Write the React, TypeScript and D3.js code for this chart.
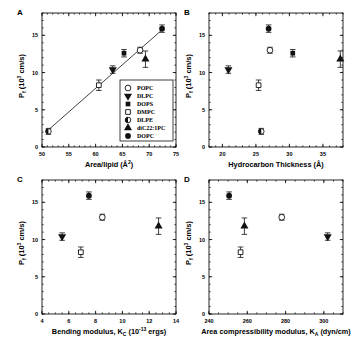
import React from 'react';
import * as d3 from 'd3';

// lipids, shared across the four panels
const lipids = ['POPC', 'DLPC', 'DOPS', 'DMPC', 'DLPE', 'diC22:1PC', 'DOPC'];
const symbols = ['circleOpen', 'triangleDown', 'square', 'squareOpen', 'circleHalf', 'triangle', 'circle'];
const pf = [13.0, 10.4, 12.6, 8.3, 2.1, 11.8, 15.9];
const pfErr = [0.4, 0.5, 0.5, 0.7, 0.4, 1.1, 0.5];

// x values per panel (null = not shown)
const areaPerLipid = [68.3, 63.2, 65.3, 60.6, 51.2, 69.3, 72.4];
const thickness = [27.1, 20.9, 30.5, 25.4, 25.8, 37.6, 26.9];
const bending = [8.5, 5.5, null, 6.9, null, 12.7, 7.5];
const compressibility = [278, 302, null, 256.5, null, 258.5, 250.5];

// fit line in panel A
const fitArea = [51.2, 72.5];
const fitPf = [2.3, 15.8];

const yTicks = [0, 5, 10, 15];

const FONT = '"Liberation Sans", Arial, sans-serif';
const W = 134;
const H = 134;

type PanelProps = {
  letter: string;
  left: number;
  top: number;
  xDomain: [number, number];
  xTicks: number[];
  xMinor: number;
  xs: (number | null)[];
  xTitle: React.ReactNode;
  fit?: boolean;
  legend?: boolean;
};

const Marker = ({ kind, x, y }: { kind: string; x: number; y: number }) => {
  const circle = d3.symbol().type(d3.symbolCircle).size(26)();
  const square = d3.symbol().type(d3.symbolSquare).size(22)();
  const tri = d3.symbol().type(d3.symbolTriangle).size(28)();
  const t = `translate(${x},${y})`;
  if (kind === 'circle') return <path d={circle!} transform={t} fill="#111" />;
  if (kind === 'circleOpen')
    return <path d={circle!} transform={t} fill="#fff" stroke="#111" strokeWidth={0.9} />;
  if (kind === 'square') return <path d={square!} transform={t} fill="#111" />;
  if (kind === 'squareOpen')
    return <path d={square!} transform={t} fill="#fff" stroke="#111" strokeWidth={0.9} />;
  if (kind === 'triangle') return <path d={tri!} transform={t} fill="#111" />;
  if (kind === 'triangleDown') return <path d={tri!} transform={`${t} rotate(180)`} fill="#111" />;
  // half-filled circle
  const half = d3.arc()({ innerRadius: 0, outerRadius: 2.8, startAngle: Math.PI, endAngle: 2 * Math.PI });
  return (
    <g transform={t}>
      <circle r={2.8} fill="#fff" stroke="#111" strokeWidth={0.9} />
      <path d={half!} fill="#111" />
    </g>
  );
};

const PfLabel = ({ x, y }: { x: number; y: number }) => (
  <text
    transform={`translate(${x},${y}) rotate(-90)`}
    textAnchor="middle"
    style={{ fontFamily: FONT, fontSize: 7.5, fontWeight: 'bold' }}
  >
    P<tspan fontSize={5} dy={2}>f</tspan>
    <tspan dy={-2}> (10</tspan>
    <tspan fontSize={5} dy={-3}>3</tspan>
    <tspan dy={3}> cm/s)</tspan>
  </text>
);

const Panel = ({ letter, left, top, xDomain, xTicks, xMinor, xs, xTitle, fit, legend }: PanelProps) => {
  const x = d3.scaleLinear().domain(xDomain).range([0, W]);
  const y = d3.scaleLinear().domain([0, 18]).range([H, 0]);
  const xMinorTicks = d3.range(xDomain[0], xDomain[1] + 1e-6, xMinor);
  const yMinorTicks = d3.range(0, 18.001, 1);
  const line = d3.line<number>().x((d) => x(d)).y((_, i) => y(fitPf[i]));

  return (
    <g transform={`translate(${left},${top})`}>
      <text x={-25} y={2} style={{ fontFamily: FONT, fontSize: 8, fontWeight: 'bold' }}>
        {letter}
      </text>
      <rect x={0} y={0} width={W} height={H} fill="none" stroke="#111" strokeWidth={0.9} />

      {/* minor ticks, all four sides */}
      {xMinorTicks.map((t) => (
        <g key={`xm-${t}`}>
          <line x1={x(t)} x2={x(t)} y1={H} y2={H - 1.6} stroke="#111" strokeWidth={0.8} />
          <line x1={x(t)} x2={x(t)} y1={0} y2={1.6} stroke="#111" strokeWidth={0.8} />
        </g>
      ))}
      {yMinorTicks.map((t) => (
        <g key={`ym-${t}`}>
          <line x1={0} x2={1.6} y1={y(t)} y2={y(t)} stroke="#111" strokeWidth={0.8} />
          <line x1={W} x2={W - 1.6} y1={y(t)} y2={y(t)} stroke="#111" strokeWidth={0.8} />
        </g>
      ))}
      {xTicks.map((t) => (
        <g key={`x-${t}`}>
          <line x1={x(t)} x2={x(t)} y1={H} y2={H - 3.2} stroke="#111" strokeWidth={0.9} />
          <line x1={x(t)} x2={x(t)} y1={0} y2={3.2} stroke="#111" strokeWidth={0.9} />
          <text
            x={x(t)}
            y={H + 9}
            textAnchor="middle"
            style={{ fontFamily: FONT, fontSize: 5.5, fontWeight: 'bold' }}
          >
            {t}
          </text>
        </g>
      ))}
      {yTicks.map((t) => (
        <g key={`y-${t}`}>
          <line x1={0} x2={3.2} y1={y(t)} y2={y(t)} stroke="#111" strokeWidth={0.9} />
          <line x1={W} x2={W - 3.2} y1={y(t)} y2={y(t)} stroke="#111" strokeWidth={0.9} />
          <text
            x={-4}
            y={y(t) + 2}
            textAnchor="end"
            style={{ fontFamily: FONT, fontSize: 5.5, fontWeight: 'bold' }}
          >
            {t}
          </text>
        </g>
      ))}

      <PfLabel x={-18} y={H / 2 - 4} />
      <text
        x={W / 2}
        y={H + 20}
        textAnchor="middle"
        style={{ fontFamily: FONT, fontSize: 7.3, fontWeight: 'bold' }}
      >
        {xTitle}
      </text>

      {fit && <path d={line(fitArea)!} fill="none" stroke="#111" strokeWidth={0.8} />}

      {xs.map((v, i) =>
        v == null ? null : (
          <g key={lipids[i]}>
            <line x1={x(v)} x2={x(v)} y1={y(pf[i] - pfErr[i])} y2={y(pf[i] + pfErr[i])} stroke="#111" strokeWidth={0.8} />
            <line x1={x(v) - 2.8} x2={x(v) + 2.8} y1={y(pf[i] - pfErr[i])} y2={y(pf[i] - pfErr[i])} stroke="#111" strokeWidth={0.8} />
            <line x1={x(v) - 2.8} x2={x(v) + 2.8} y1={y(pf[i] + pfErr[i])} y2={y(pf[i] + pfErr[i])} stroke="#111" strokeWidth={0.8} />
            <Marker kind={symbols[i]} x={x(v)} y={y(pf[i])} />
          </g>
        )
      )}

      {legend && (
        <g transform="translate(78,67)">
          <rect x={0} y={0} width={53} height={61} fill="#fff" stroke="#111" strokeWidth={0.8} />
          {lipids.map((name, i) => (
            <g key={name} transform={`translate(0,${8 + i * 8})`}>
              <Marker kind={symbols[i]} x={8} y={0} />
              <text
                x={17}
                y={2.2}
                style={{ fontFamily: '"Liberation Serif", "Times New Roman", serif', fontSize: 6, fontWeight: 'bold' }}
              >
                {name}
              </text>
            </g>
          ))}
        </g>
      )}
    </g>
  );
};

const App = () => (
  <svg
    width={360}
    height={352}
    viewBox="0 0 360 352"
    style={{ position: 'absolute', left: 0, top: 0, background: '#fff' }}
  >
    <Panel
      letter="A"
      left={42}
      top={13}
      xDomain={[50, 75]}
      xTicks={[50, 55, 60, 65, 70, 75]}
      xMinor={1}
      xs={areaPerLipid}
      fit
      legend
      xTitle={
        <>
          Area/lipid (Å<tspan fontSize={5} dy={-3}>2</tspan>
          <tspan dy={3}>)</tspan>
        </>
      }
    />
    <Panel
      letter="B"
      left={209}
      top={13}
      xDomain={[18, 38]}
      xTicks={[20, 25, 30, 35]}
      xMinor={1}
      xs={thickness}
      xTitle="Hydrocarbon Thickness (Å)"
    />
    <Panel
      letter="C"
      left={42}
      top={180}
      xDomain={[4, 14]}
      xTicks={[4, 6, 8, 10, 12, 14]}
      xMinor={0.5}
      xs={bending}
      xTitle={
        <>
          Bending modulus, K<tspan fontSize={5} dy={2}>C</tspan>
          <tspan dy={-2}> (10</tspan>
          <tspan fontSize={5} dy={-3}>-13</tspan>
          <tspan dy={3}> ergs)</tspan>
        </>
      }
    />
    <Panel
      letter="D"
      left={209}
      top={180}
      xDomain={[240, 310]}
      xTicks={[240, 260, 280, 300]}
      xMinor={5}
      xs={compressibility}
      xTitle={
        <>
          Area compressibility modulus, K<tspan fontSize={5} dy={2}>A</tspan>
          <tspan dy={-2}> (dyn/cm)</tspan>
        </>
      }
    />
  </svg>
);

export default App;
